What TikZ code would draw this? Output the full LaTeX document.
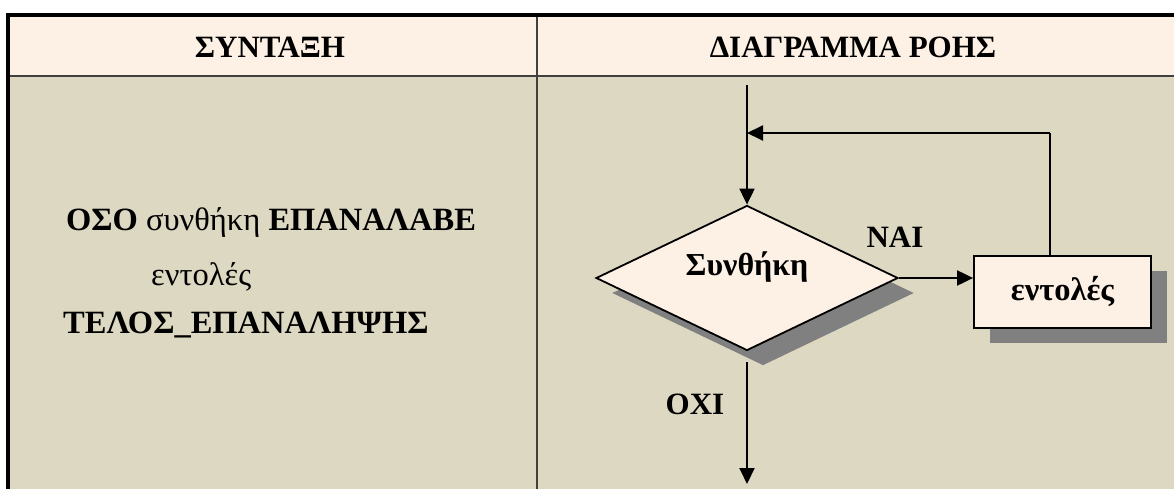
\documentclass[tikz,border=0pt]{standalone}
\usepackage{fontspec}
\setmainfont{Liberation Serif}
\usetikzlibrary{shapes.geometric,shadows,arrows.meta}

\definecolor{headfill}{HTML}{FDF1E5}
\definecolor{bodyfill}{HTML}{DDD8C2}
\definecolor{rulegray}{HTML}{404040}
\definecolor{shadowgray}{HTML}{808080}

\tikzset{
  capsfont/.style={font=\fontsize{31}{37}\selectfont\bfseries},
  celltext/.style={font=\fontsize{32.5}{39}\selectfont, inner sep=0pt},
  flow/.style={line width=2pt, -{Triangle[length=16pt,width=15pt]}},
  plainflow/.style={line width=2pt},
  solidshadow/.style={general shadow={fill=shadowgray, shadow xshift=16pt, shadow yshift=-15pt}},
  decision/.style={diamond, aspect=2, draw=black, line width=1.8pt, fill=headfill, solidshadow,
    minimum width=302pt, minimum height=145pt, inner sep=0pt,
    font=\fontsize{32}{38}\selectfont\bfseries, text height=20pt, text depth=26pt},
  stmtbox/.style={rectangle, draw=black, line width=1.8pt, fill=headfill, solidshadow,
    minimum width=177pt, minimum height=72pt, inner sep=0pt,
    font=\fontsize{32.5}{39}\selectfont\bfseries},
  edgelabel/.style={capsfont, inner sep=0pt}
}

\begin{document}
\begin{tikzpicture}[x=1pt, y=-1pt]
  \useasboundingbox (0,0) rectangle (1174,489);
  \fill[white] (0,0) rectangle (1174,489);

  % table cells
  \fill[headfill] (8,14) rectangle (1174,75.8);
  \fill[bodyfill] (8,75.8) rectangle (1174,489);
  \draw[rulegray, line width=1.8pt] (8,75.8) -- (1174,75.8);
  \draw[rulegray, line width=2pt] (536.7,16) -- (536.7,489);
  \draw[black, line width=4pt] (6,14.7) -- (1174,14.7);
  \draw[black, line width=3.8pt] (8,12.7) -- (8,489);

  % column headings
  \node[capsfont, inner sep=0pt, anchor=base] (hsyntax) at (270,57.5) {ΣΥΝΤΑΞΗ};
  \node[capsfont, inner sep=0pt, anchor=base] (hflow) at (853,57.5) {ΔΙΑΓΡΑΜΜΑ ΡΟΗΣ};

  % syntax
  \node[celltext, anchor=base west] (syn1) at (66,230) {\textbf{ΟΣΟ} συνθήκη \textbf{ΕΠΑΝΑΛΑΒΕ}};
  \node[celltext, anchor=base west] (syn2) at (151,285) {εντολές};
  \node[celltext, anchor=base west] (syn3) at (63,333) {\textbf{ΤΕΛΟΣ\_ΕΠΑΝΑΛΗΨΗΣ}};

  % flow chart
  \node[decision] (cond) at (747,278) {Συνθήκη};
  \node[stmtbox] (stmts) at (1062.5,292) {εντολές};

  \coordinate (entry) at (747,85);
  \coordinate (loopback) at (1050,133);
  \coordinate (exitend) at (747,484);

  \draw[flow] (entry) -- (cond.north);
  \draw[flow] (cond.east) -- (cond.east -| stmts.west);
  \draw[plainflow] (loopback |- stmts.north) -- (loopback);
  \draw[flow] (loopback) -- (loopback -| entry);
  \draw[flow, shorten <=11pt] (cond.south) -- (exitend);

  \node[edgelabel, anchor=base] (yes) at (895,247) {ΝΑΙ};
  \node[edgelabel, anchor=base] (no) at (695,414) {ΟΧΙ};
\end{tikzpicture}
\end{document}
